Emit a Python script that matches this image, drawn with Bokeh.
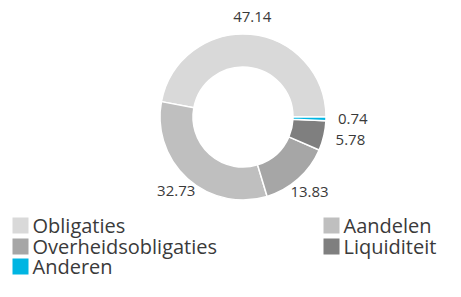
import numpy as np
from bokeh.plotting import figure
from bokeh.models import Range1d, ColumnDataSource
from bokeh.core.properties import value
from bokeh.embed import file_html
from bokeh.resources import INLINE

categories = ["Obligaties", "Aandelen", "Overheidsobligaties", "Liquiditeit", "Anderen"]
values = [47.14, 32.73, 13.83, 5.78, 0.74]
labels = ["47.14", "32.73", "13.83", "5.78", "0.74"]
colors = ["#d9d9d9", "#bfbfbf", "#a6a6a6", "#7f7f7f", "#00b5e2"]

W, H = 445, 281
FONT = "Open Sans"
TXT = "#3a3a3a"

p = figure(width=W, height=H, output_backend="svg", toolbar_location=None,
           x_range=Range1d(0, W), y_range=Range1d(0, H), min_border=0,
           background_fill_color="white", border_fill_color="white")
p.axis.visible = False
p.grid.visible = False
p.outline_line_color = None

cx, cy = 242.5, H - 116.5
r_in, r_out = 50, 83

vals = np.array(values)
frac = vals / vals.sum()
ends = np.cumsum(frac) * 2 * np.pi
starts = ends - frac * 2 * np.pi
mids = (starts + ends) / 2

src = ColumnDataSource(dict(start=starts, end=ends, color=colors))
p.annular_wedge(x=cx, y=cy, inner_radius=r_in, outer_radius=r_out,
                start_angle="start", end_angle="end", fill_color="color",
                line_color="white", line_width=1.5, source=src)

R_lab = 100
cosm = np.cos(mids)
lx = cx + (R_lab - 5 * (np.abs(cosm) > 0.9)) * cosm
ly = cy + R_lab * np.sin(mids)
align = ["left" if c > 0.9 else ("right" if c < -0.9 else "center") for c in cosm]
lsrc = ColumnDataSource(dict(x=lx, y=ly, text=labels, align=align))
p.text(x="x", y="y", text="text", text_align="align", text_baseline="middle",
       text_font=value(FONT), text_font_size="15px", text_color=TXT, source=lsrc)

# legend: 2 columns, row-major
col_x = [12, 323]
row_y = [225, 246, 266]  # from top
sq = 16
idx = np.arange(len(categories))
gx = np.array([col_x[i % 2] for i in idx], dtype=float)
gy = np.array([H - row_y[i // 2] for i in idx], dtype=float)
legsrc = ColumnDataSource(dict(x=gx + sq / 2, y=gy, tx=gx + 20, text=categories, color=colors))
p.rect(x="x", y="y", width=sq, height=sq, fill_color="color", line_color=None, source=legsrc)
p.text(x="tx", y="y", text="text", text_baseline="middle", text_align="left",
       text_font=value(FONT), text_font_size="20px", text_color=TXT, source=legsrc)

open("out.html", "w").write(file_html(p, INLINE))
